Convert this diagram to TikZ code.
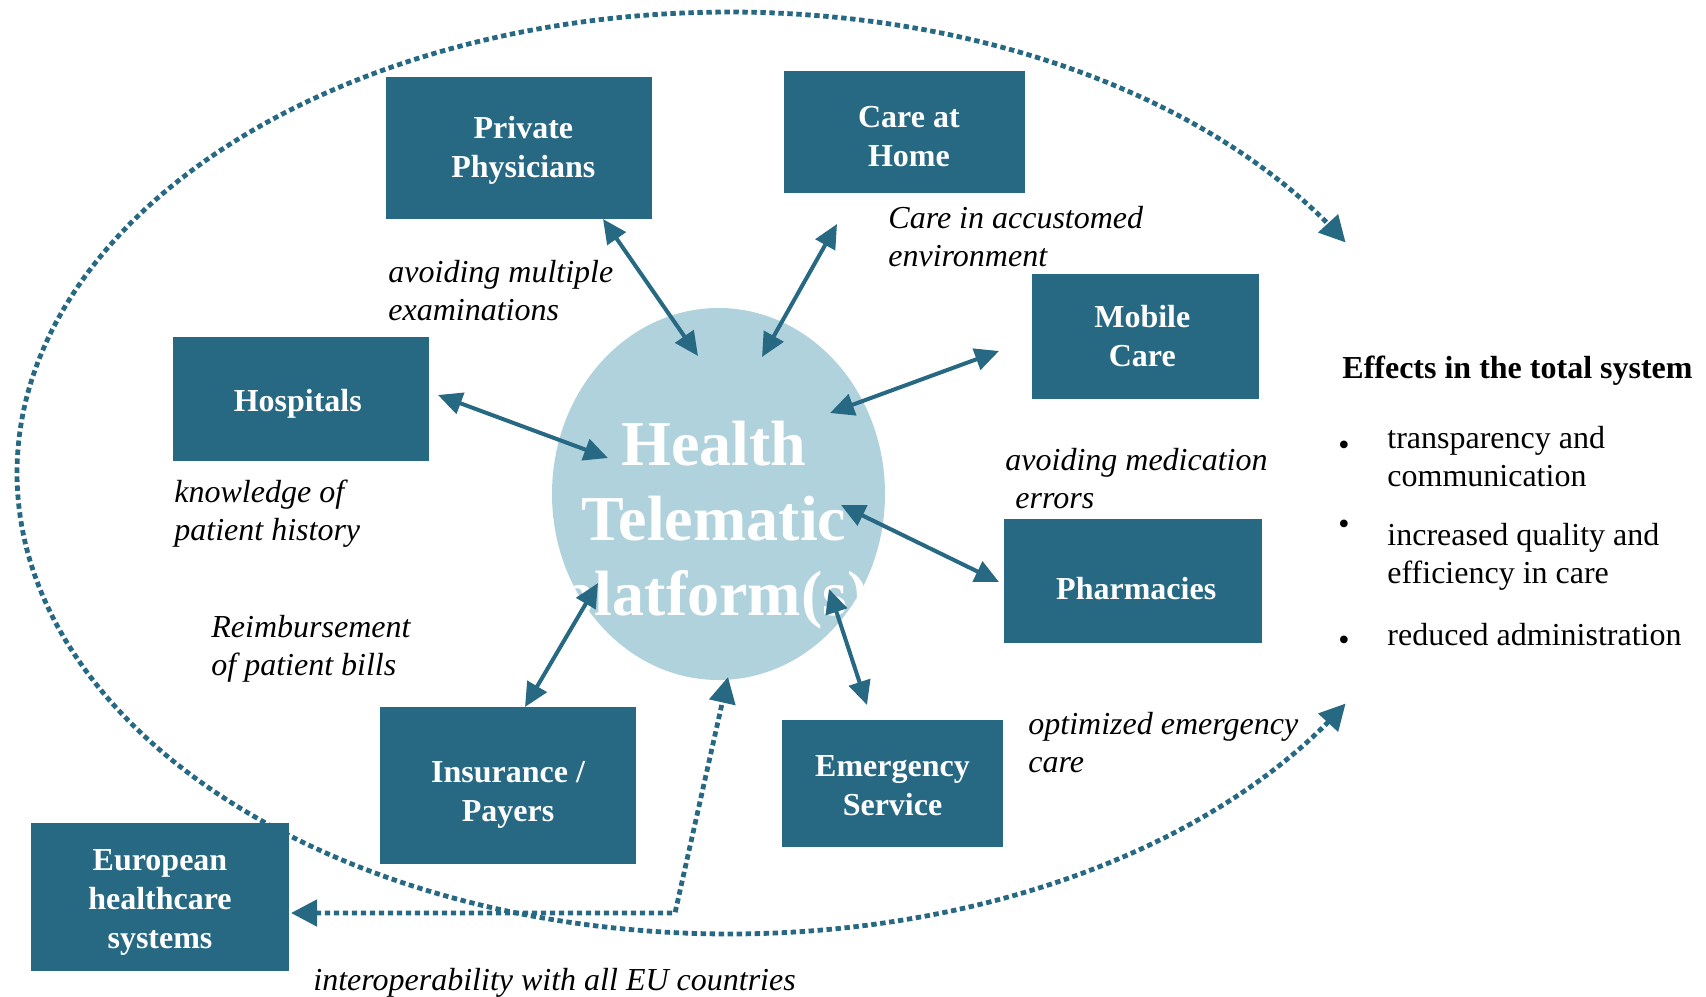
\documentclass[tikz,border=0pt]{standalone}
\usepackage{fontspec}
\setmainfont{Liberation Serif}
\usetikzlibrary{arrows.meta,shapes.geometric}
\definecolor{boxc}{RGB}{39,105,131}
\definecolor{hubc}{RGB}{176,210,221}
\begin{document}
\begin{tikzpicture}[x=0.5pt,y=-0.5pt,
  box/.style={fill=boxc,draw=none,inner sep=0pt},
  btext/.style={text=white,font=\fontsize{16}{19.5}\selectfont\bfseries,align=center,inner sep=0pt},
  lab/.style={font=\fontsize{16}{19}\selectfont\itshape,align=left,anchor=base west,inner sep=0pt},
  txt/.style={font=\fontsize{16}{19}\selectfont,align=left,anchor=base west,inner sep=0pt},
  bul/.style={inner sep=0pt,font=\fontsize{16}{19}\selectfont},
  link/.style={draw=boxc,line width=2pt,{Triangle[length=12pt,width=11pt]}-{Triangle[length=12pt,width=11pt]}},
  dots/.style={draw=boxc,line width=2.4pt,dash pattern=on 2.7pt off 1.8pt},
  dottips/.style={{Triangle[length=13pt,width=13pt]}-{Triangle[length=13pt,width=13pt]}}
]
\useasboundingbox (0,0) rectangle (1706,996);

% big dotted loop
\draw[dots,dottips] plot[domain=30:330,samples=150,smooth] ({729+712*cos(\x)},{473+461*sin(\x)});

% hub
\node[ellipse,fill=hubc,minimum width=166.5pt,minimum height=186pt,inner sep=0pt] (hub) at (718.5,494) {};
\node[text=white,font=\fontsize{32}{37.5}\selectfont\bfseries,align=center,inner sep=0pt] (hubtext) at (714,525) {Health\\Telematic\\platform(s)};

% boxes
\node[box,minimum width=133pt,minimum height=71pt,label={[btext,xshift=2.2pt,yshift=-1.1pt]center:Private\\Physicians}] (priv) at (519,148) {};
\node[box,minimum width=120.5pt,minimum height=61pt,label={[btext,xshift=2.2pt,yshift=-2.5pt]center:Care at\\Home}] (home) at (904.5,132) {};
\node[box,minimum width=113.5pt,minimum height=62.5pt,label={[btext,xshift=-1.6pt]center:Mobile\\Care}] (mobile) at (1145.5,336.5) {};
\node[box,minimum width=128pt,minimum height=62pt,label={[btext,xshift=-1.6pt,yshift=-2.2pt]center:Hospitals}] (hosp) at (301,399) {};
\node[box,minimum width=129pt,minimum height=62pt,label={[btext,xshift=1.6pt,yshift=-3.7pt]center:Pharmacies}] (pharm) at (1133,581) {};
\node[box,minimum width=110.5pt,minimum height=63.5pt,label={[btext,yshift=-1.1pt]center:Emergency\\Service}] (emerg) at (892.5,783.5) {};
\node[box,minimum width=128pt,minimum height=78.5pt,label={[btext,yshift=-4.9pt]center:Insurance /\\Payers}] (ins) at (508,785.5) {};
\node[box,minimum width=129pt,minimum height=74pt,label={[btext,yshift=-2.7pt]center:European\\healthcare\\systems}] (eu) at (160,897) {};

% connector end points
\coordinate (a1) at (603,219); \coordinate (b1) at (698,356);
\coordinate (a2) at (837,224); \coordinate (b2) at (762,357);
\coordinate (a3) at (438,395); \coordinate (b3) at (608,458);
\coordinate (a4) at (999,351); \coordinate (b4) at (830,413);
\coordinate (a5) at (999,582); \coordinate (b5) at (841,505);
\coordinate (a6) at (867,705); \coordinate (b6) at (829,589);
\coordinate (a7) at (525,707); \coordinate (b7) at (598,583);
\coordinate (eutip) at (291,913); \coordinate (bend) at (675,913); \coordinate (hubtip) at (728,677);

\draw[link] (a1) -- (b1);
\draw[link] (a2) -- (b2);
\draw[link] (a3) -- (b3);
\draw[link] (a4) -- (b4);
\draw[link] (a5) -- (b5);
\draw[link] (a6) -- (b6);
\draw[link] (a7) -- (b7);
\draw[dots,dottips] (eutip) -- (bend) -- (hubtip);

% labels (anchor = baseline of last line)
\node[lab] (l1) at (388,320) {avoiding multiple\\examinations};
\node[lab] (l2) at (888,266) {Care in accustomed\\environment};
\node[lab] (l3) at (174,540) {knowledge of\\patient history};
\node[lab] (l4) at (1005,508) {avoiding medication\\\hspace*{5pt}errors};
\node[lab] (l5) at (211,675) {Reimbursement\\of patient bills};
\node[lab] (l6) at (1028,772) {optimized emergency\\care};
\node[lab] (l7) at (313,990) {interoperability with all EU countries};

% effects
\node[txt,font=\fontsize{16}{19}\selectfont\bfseries] (eff) at (1342,378) {Effects in the total system};
\node[bul] (bu1) at (1344,448) {•};
\node[bul] (bu2) at (1344,527) {•};
\node[bul] (bu3) at (1344,643) {•};
\node[txt] (e1) at (1387,486) {transparency and\\communication};
\node[txt] (e2) at (1387,583) {increased quality and\\efficiency in care};
\node[txt] (e3) at (1387,645) {reduced administration};
\end{tikzpicture}
\end{document}
